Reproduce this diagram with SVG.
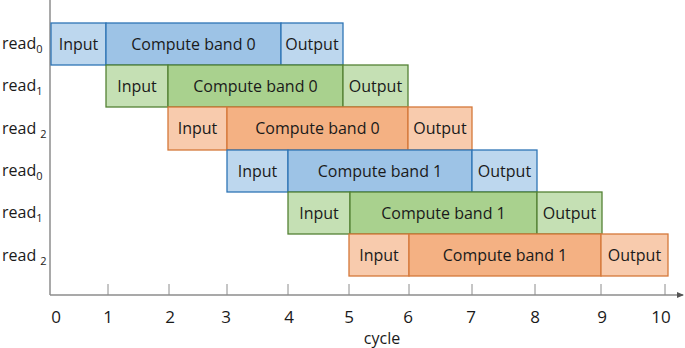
<svg xmlns="http://www.w3.org/2000/svg" width="685" height="348" viewBox="0 0 685 348">
<style>
text{font-family:"Open Sans","Liberation Sans",sans-serif;font-size:16px;fill:#1a1a1a}
.c{text-anchor:middle}
.n{font-size:17px}
.bl{fill:#BDD7EE;stroke:#2E75B6;stroke-width:1.3}
.bd{fill:#9DC3E6;stroke:#2E75B6;stroke-width:1.3}
.gl{fill:#C5E0B4;stroke:#548235;stroke-width:1.3}
.gd{fill:#A9D18E;stroke:#548235;stroke-width:1.3}
.ol{fill:#F8CBAD;stroke:#D5783A;stroke-width:1.3}
.od{fill:#F4B183;stroke:#D5783A;stroke-width:1.3}
.ax{stroke:#8c8c8c;stroke-width:1.5;fill:none}
.tk{stroke:#8c8c8c;stroke-width:1;fill:none}
.sub{font-size:11px}
</style>
<defs>
<marker id="arr" markerWidth="8" markerHeight="8" refX="6" refY="4" orient="auto" markerUnits="userSpaceOnUse">
<path d="M0,1 L7,4 L0,7 Z" fill="#555"/>
</marker>
</defs>
<g id="axes">
<line class="ax" x1="50" y1="0" x2="50" y2="295"/>
<line class="ax" x1="50" y1="295" x2="683" y2="295" marker-end="url(#arr)"/>
<path class="tk" d="M108,284V295M169,284V295M227,284V295M288,284V295M349,284V295M409,284V295M472,284V295M535,284V295M601,284V295M665,284V295"/>
<g class="c">
<text class="n" x="56" y="323">0</text><text class="n" x="108" y="323">1</text><text class="n" x="170" y="323">2</text><text class="n" x="226" y="323">3</text><text class="n" x="289" y="323">4</text><text class="n" x="349" y="323">5</text><text class="n" x="408" y="323">6</text><text class="n" x="471" y="323">7</text><text class="n" x="535" y="323">8</text><text class="n" x="602" y="323">9</text><text class="n" x="661" y="323">10</text>
<text x="382" y="344">cycle</text>
</g>
</g>
<g id="labels">
<text x="2" y="49">read<tspan class="sub" dy="4">0</tspan></text>
<text x="2" y="91">read<tspan class="sub" dy="4">1</tspan></text>
<text x="2" y="134">read <tspan class="sub" dy="4">2</tspan></text>
<text x="2" y="176">read<tspan class="sub" dy="4">0</tspan></text>
<text x="2" y="218">read<tspan class="sub" dy="4">1</tspan></text>
<text x="2" y="261">read <tspan class="sub" dy="4">2</tspan></text>
</g>
<g id="row0">
<rect class="bl" x="51" y="23" width="55" height="42"/>
<rect class="bd" x="106" y="23" width="175" height="42"/>
<rect class="bl" x="281" y="23" width="62" height="42"/>
<text class="c" x="78.5" y="49.5">Input</text>
<text class="c" x="193.5" y="49.5">Compute band 0</text>
<text class="c" x="312" y="49.5">Output</text>
</g>
<g id="row1">
<rect class="gl" x="106" y="65" width="62" height="42"/>
<rect class="gd" x="168" y="65" width="175" height="42"/>
<rect class="gl" x="343" y="65" width="65" height="42"/>
<text class="c" x="137" y="91.5">Input</text>
<text class="c" x="255.5" y="91.5">Compute band 0</text>
<text class="c" x="375.5" y="91.5">Output</text>
</g>
<g id="row2">
<rect class="ol" x="168" y="107" width="59" height="43"/>
<rect class="od" x="227" y="107" width="181" height="43"/>
<rect class="ol" x="408" y="107" width="64" height="43"/>
<text class="c" x="197.5" y="134">Input</text>
<text class="c" x="317.5" y="134">Compute band 0</text>
<text class="c" x="440" y="134">Output</text>
</g>
<g id="row3">
<rect class="bl" x="227" y="150" width="61" height="42"/>
<rect class="bd" x="288" y="150" width="184" height="42"/>
<rect class="bl" x="472" y="150" width="65" height="42"/>
<text class="c" x="257.5" y="176.5">Input</text>
<text class="c" x="380" y="176.5">Compute band 1</text>
<text class="c" x="504.5" y="176.5">Output</text>
</g>
<g id="row4">
<rect class="gl" x="288" y="192" width="62" height="42"/>
<rect class="gd" x="350" y="192" width="187" height="42"/>
<rect class="gl" x="537" y="192" width="65" height="42"/>
<text class="c" x="319" y="218.5">Input</text>
<text class="c" x="443.5" y="218.5">Compute band 1</text>
<text class="c" x="569.5" y="218.5">Output</text>
</g>
<g id="row5">
<rect class="ol" x="349" y="234" width="60" height="42"/>
<rect class="od" x="409" y="234" width="192" height="42"/>
<rect class="ol" x="601" y="234" width="67" height="42"/>
<text class="c" x="379" y="261">Input</text>
<text class="c" x="505" y="261">Compute band 1</text>
<text class="c" x="634.5" y="261">Output</text>
</g>
</svg>
